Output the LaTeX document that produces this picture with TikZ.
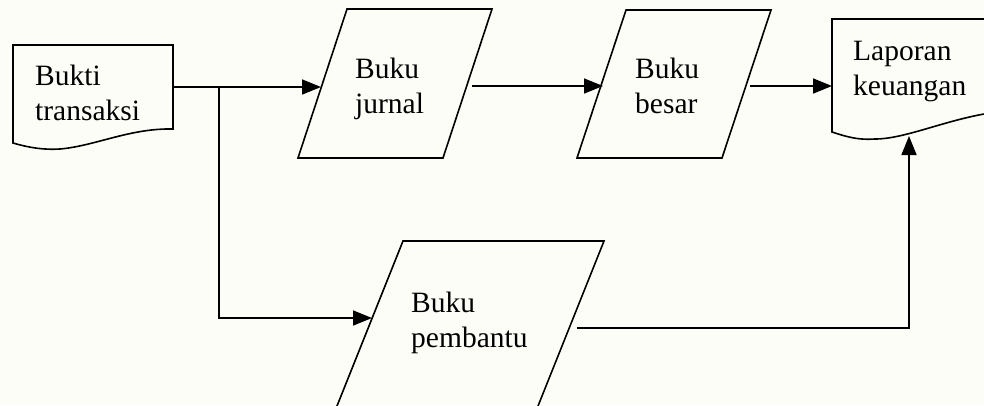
\documentclass[tikz,border=0pt]{standalone}
\usepackage{fontspec}
\setmainfont{Liberation Serif}
\usetikzlibrary{arrows.meta}
\definecolor{bgc}{RGB}{252,253,247}
\begin{document}
\begin{tikzpicture}[x=1pt,y=-1pt,
  shp/.style={draw=black,line width=1.6pt,line join=miter},
  arr/.style={draw=black,line width=1.6pt,-{Triangle[length=19pt,width=15pt]}},
  ln/.style={draw=black,line width=1.6pt},
  lbl/.style={anchor=base west,inner sep=0pt,text width=150pt,align=left,
    font=\fontsize{29.5}{35}\selectfont}]
\useasboundingbox (0,0) rectangle (984,405);
\fill[bgc] (0,0) rectangle (984,405);
\clip (0,0) rectangle (984,405);
% Bukti transaksi (document)
\draw[shp] (13,143) -- (13,45) -- (173,45) -- (173,129)
  .. controls (130,128) and (95,146) .. (60,149)
  .. controls (45,150) and (30,148) .. (13,143) -- cycle;
\node[lbl] (bukti) at (35,85) {Bukti\\transaksi};
% Buku jurnal
\draw[shp] (298,158) -- (347,9) -- (492,9) -- (443,158) -- cycle;
\node[lbl] (jurnal) at (355,78) {Buku\\jurnal};
% Buku besar
\draw[shp] (577,158) -- (626,10) -- (771,10) -- (722,158) -- cycle;
\node[lbl] (besar) at (635,78) {Buku\\besar};
% Laporan keuangan (document)
\draw[shp] (990,113) -- (990,19) -- (832,19) -- (832,132)
  .. controls (850,138) and (860,140) .. (875,139)
  .. controls (905,139) and (945,120) .. (990,113);
\node[lbl] (laporan) at (853,60) {Laporan\\keuangan};
% Buku pembantu
\draw[shp] (331.4,420) -- (403,241) -- (604,241) -- (532.4,420);
\node[lbl] (pembantu) at (411,312) {Buku\\pembantu};
% connector ends
\coordinate (buktiE) at (173,87);
\coordinate (junc) at (219,87);
\coordinate (jurnalW) at (321,87);
\coordinate (jurnalE) at (472,86);
\coordinate (besarW) at (603,86);
\coordinate (besarE) at (750,86);
\coordinate (laporanW) at (832,86);
\coordinate (laporanS) at (909,136);
\coordinate (pembantuW) at (372,318);
\coordinate (pembantuE) at (577,328);
% connectors
\draw[arr] (buktiE) -- (jurnalW);
\draw[arr] (junc) |- (pembantuW);
\draw[arr] (jurnalE) -- (besarW);
\draw[arr] (besarE) -- (laporanW);
\draw[arr] (pembantuE) -| (laporanS);
\end{tikzpicture}
\end{document}
